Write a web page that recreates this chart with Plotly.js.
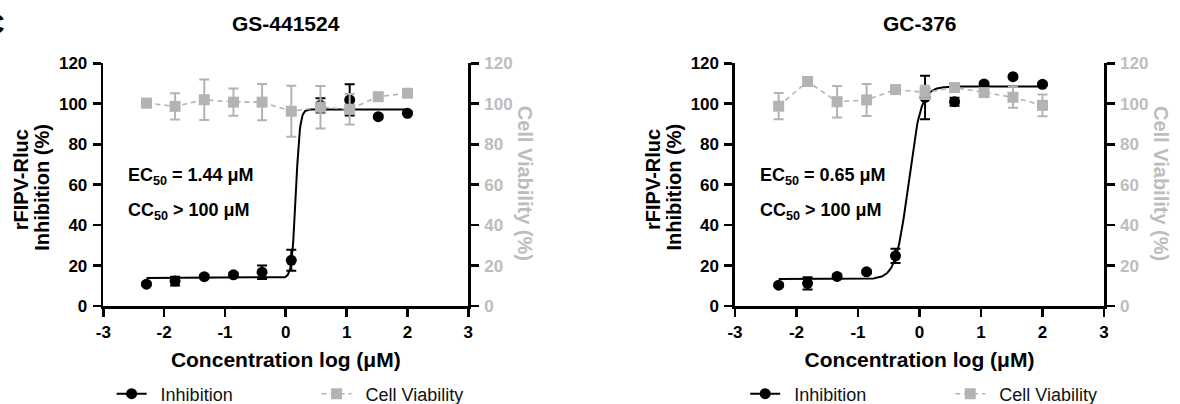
<!DOCTYPE html>
<html><head><meta charset="utf-8">
<script src="https://cdn.plot.ly/plotly-3.0.1.min.js"></script>
<style>html,body{margin:0;padding:0;background:#fff}#chart{width:1180px;height:404px}</style>
</head><body><div id="chart"></div>
<script>
// ---- data ----
const panelTitles = ['GS-441524', 'GC-376'];
const seriesNames = ['Inhibition', 'Cell Viability'];
const logConc = [-2.29, -1.82, -1.34, -0.86, -0.39, 0.09, 0.57, 1.05, 1.52, 2.0];

const gsInhibition    = [10.8, 12.3, 14.5, 15.4, 16.7, 22.6, 99.2, 101.9, 93.6, 95.3];
const gsInhibitionErr = [0.8, 2.2, 0.8, 1.0, 3.3, 5.2, 3.5, 7.7, 0.8, 0.8];
const gsViability     = [100.3, 98.7, 102.0, 100.8, 100.8, 96.3, 98.3, 97.3, 103.5, 105.2];
const gsViabilityErr  = [1.0, 6.5, 10.0, 6.7, 9.0, 12.6, 10.5, 7.5, 1.0, 1.0];

const gcInhibition    = [10.3, 11.2, 14.6, 16.9, 24.8, 103.1, 101.0, 109.8, 113.4, 109.6];
const gcInhibitionErr = [0.8, 3.0, 1.0, 0.8, 3.5, 10.8, 2.0, 0.8, 0.8, 0.8];
const gcViability     = [98.8, 111.0, 101.0, 101.9, 107.0, 105.6, 108.0, 105.5, 103.2, 99.2];
const gcViabilityErr  = [6.5, 0.5, 7.8, 7.9, 0.5, 3.3, 0.5, 1.5, 5.2, 5.4];

// 4-parameter logistic fit parameters
const gsFit = {bottom: 13.9, top: 97.2, logEC50: 0.165, hill: 13};
const gcFit = {bottom: 13.3, top: 108.5, logEC50: -0.18, hill: 4.3};

const gsLabels = ['EC<sub>50</sub> = 1.44 μM', 'CC<sub>50</sub> > 100 μM'];
const gcLabels = ['EC<sub>50</sub> = 0.65 μM', 'CC<sub>50</sub> > 100 μM'];

const xTickVals = [-3, -2, -1, 0, 1, 2, 3];
const xTickText = ['-3', '-2', '-1', '0', '1', '2', '3'];
const yTickVals = [0, 20, 40, 60, 80, 100, 120];
const yTickText = ['0', '20', '40', '60', '80', '100', '120'];

// ---- styling ----
const FONT = 'Liberation Sans, Arial, Helvetica, sans-serif';
const BLACK = '#000000';
const GREY = '#b3b3b3';
const GREY_TXT = '#bdbdbd';
const W = 1180, H = 404;
const GAP = '\u2002'; // spacing between legend symbol and its label

function fitCurve(p, xs) {
  const cx = [], cy = [];
  const x0 = xs[0], x1 = xs[xs.length - 1], n = 400;
  for (let i = 0; i <= n; i++) {
    const x = x0 + (x1 - x0) * i / n;
    cx.push(x);
    cy.push(p.bottom + (p.top - p.bottom) / (1 + Math.pow(10, (p.logEC50 - x) * p.hill)));
  }
  return {x: cx, y: cy};
}

function panelTraces(xa, ya, ya2, legendId, inh, inhErr, via, viaErr, fit) {
  const curve = fitCurve(fit, logConc);
  return [
    {x: curve.x, y: curve.y, xaxis: xa, yaxis: ya, mode: 'lines', showlegend: false,
     line: {color: BLACK, width: 2}, hoverinfo: 'skip', legend: legendId},
    {x: logConc, y: inh, xaxis: xa, yaxis: ya, mode: 'markers', showlegend: false, cliponaxis: false,
     marker: {symbol: 'circle', size: 11, color: BLACK},
     error_y: {type: 'data', array: inhErr, visible: true, color: BLACK, thickness: 2, width: 5},
     legend: legendId},
    {x: [null], y: [null], xaxis: xa, yaxis: ya, mode: 'lines+markers', name: GAP + seriesNames[0],
     marker: {symbol: 'circle', size: 11, color: BLACK}, line: {color: BLACK, width: 2},
     legend: legendId},
    {x: logConc, y: via, xaxis: xa, yaxis: ya2, mode: 'lines+markers', name: GAP + seriesNames[1], cliponaxis: false,
     marker: {symbol: 'square', size: 11, color: GREY},
     line: {color: GREY, width: 1.6, dash: '5px,4px'},
     error_y: {type: 'data', array: viaErr, visible: true, color: GREY, thickness: 2, width: 5},
     legend: legendId}
  ];
}

const data = [].concat(
  panelTraces('x', 'y', 'y2', 'legend', gsInhibition, gsInhibitionErr, gsViability, gsViabilityErr, gsFit),
  panelTraces('x2', 'y3', 'y4', 'legend2', gcInhibition, gcInhibitionErr, gcViability, gcViabilityErr, gcFit)
);

const leftPx = [103.3, 468.3], rightPx = [735, 1104];
const yDom = [1 - 306 / H, 1 - 63.3 / H];
const tickFont = (c) => ({family: FONT, size: 17, color: c, weight: 700});

function xAxis(px, anchor) {
  return {
    domain: [px[0] / W, px[1] / W], anchor: anchor, range: [-3, 3],
    showline: true, linewidth: 2.6, linecolor: BLACK, mirror: false,
    ticks: 'outside', ticklen: 8, tickwidth: 2.6, tickcolor: BLACK,
    tickmode: 'array', tickvals: xTickVals, ticktext: xTickText,
    tickfont: tickFont(BLACK), ticklabelstandoff: 1,
    showgrid: false, zeroline: false, fixedrange: true,
    title: {text: 'Concentration log (μM)', font: {family: FONT, size: 21, color: BLACK, weight: 700}, standoff: 12}
  };
}
function yAxis(anchor, side, overlay, labelColor) {
  const a = {
    domain: yDom, anchor: anchor, side: side, range: [0, 120],
    showline: true, linewidth: 2.6, linecolor: BLACK,
    ticks: 'outside', ticklen: 8, tickwidth: 2.6, tickcolor: BLACK,
    tickmode: 'array', tickvals: yTickVals, ticktext: yTickText,
    tickfont: tickFont(labelColor), ticklabelstandoff: 2,
    showgrid: false, zeroline: false, fixedrange: true
  };
  if (overlay) a.overlaying = overlay;
  return a;
}

function panelAnnotations(px, xref, yref, title, labels) {
  const cx = (px[0] + px[1]) / 2;
  return [
    {text: title, xref: 'paper', yref: 'paper', x: cx / W, y: 1 - 23.5 / H, xanchor: 'center', yanchor: 'middle',
     showarrow: false, font: {family: FONT, size: 21, color: BLACK, weight: 700}},
    {text: 'rFIPV-Rluc', xref: 'paper', yref: 'paper', x: (px[0] - 82) / W, y: 1 - 180 / H, textangle: -90,
     xanchor: 'center', yanchor: 'middle', showarrow: false, font: {family: FONT, size: 20, color: BLACK, weight: 700}},
    {text: 'Inhibition (%)', xref: 'paper', yref: 'paper', x: (px[0] - 61.5) / W, y: 1 - 187 / H, textangle: -90,
     xanchor: 'center', yanchor: 'middle', showarrow: false, font: {family: FONT, size: 20, color: BLACK, weight: 700}},
    {text: 'Cell Viability (%)', xref: 'paper', yref: 'paper', x: (px[1] + 57.5) / W, y: 1 - 183.5 / H, textangle: 90,
     xanchor: 'center', yanchor: 'middle', showarrow: false, font: {family: FONT, size: 20, color: GREY_TXT, weight: 700}},
    {text: labels[0], xref: xref, yref: yref, x: -2.62, y: 64, xanchor: 'left', yanchor: 'middle',
     showarrow: false, font: {family: FONT, size: 18, color: BLACK, weight: 700}},
    {text: labels[1], xref: xref, yref: yref, x: -2.62, y: 46.5, xanchor: 'left', yanchor: 'middle',
     showarrow: false, font: {family: FONT, size: 18, color: BLACK, weight: 700}}
  ];
}

const legendBase = {
  orientation: 'h', xanchor: 'left', yanchor: 'middle', y: 1 - 394 / H,
  font: {family: FONT, size: 18, color: '#111111'}, bgcolor: 'rgba(0,0,0,0)',
  entrywidth: 160, entrywidthmode: 'pixels', itemclick: false, itemdoubleclick: false
};

const layout = {
  width: W, height: H, margin: {l: 0, r: 0, t: 0, b: 0, autoexpand: false},
  paper_bgcolor: '#ffffff', plot_bgcolor: 'rgba(0,0,0,0)',
  showlegend: true,
  xaxis: xAxis(leftPx, 'y'),
  yaxis: yAxis('x', 'left', null, BLACK),
  yaxis2: yAxis('x', 'right', 'y', GREY_TXT),
  xaxis2: xAxis(rightPx, 'y3'),
  yaxis3: yAxis('x2', 'left', null, BLACK),
  yaxis4: yAxis('x2', 'right', 'y3', GREY_TXT),
  legend: Object.assign({}, legendBase, {x: 111.6 / W}),
  legend2: Object.assign({}, legendBase, {x: 745.2 / W}),
  annotations: [].concat(
    [{text: 'C', xref: 'paper', yref: 'paper', x: 7 / W, y: 1 - 23 / H, xanchor: 'right', yanchor: 'middle',
      showarrow: false, font: {family: FONT, size: 30, color: BLACK, weight: 700}}],
    panelAnnotations(leftPx, 'x', 'y', panelTitles[0], gsLabels),
    panelAnnotations(rightPx, 'x2', 'y3', panelTitles[1], gcLabels)
  )
};

Plotly.newPlot('chart', data, layout, {staticPlot: true, displayModeBar: false});
</script></body></html>
